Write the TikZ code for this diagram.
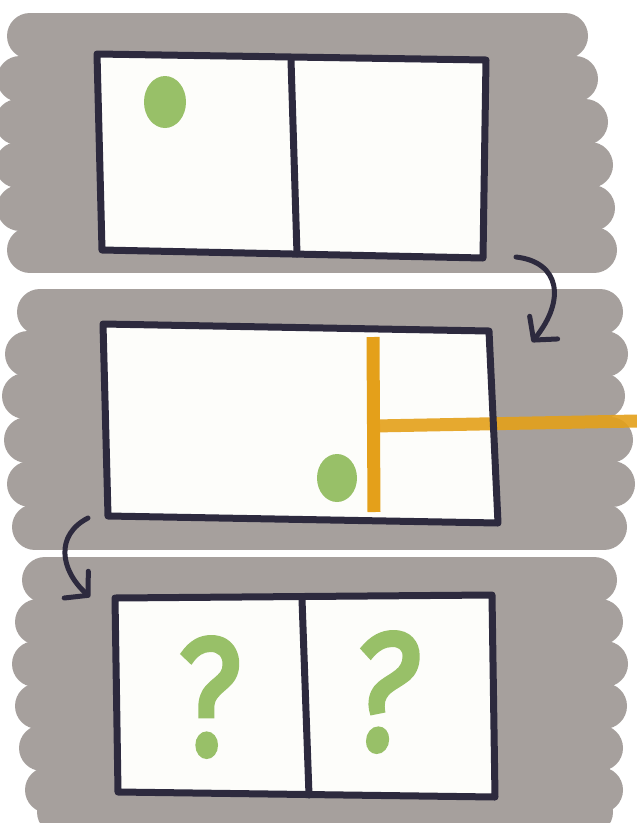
\documentclass[tikz,border=0pt]{standalone}
\usepackage{fontspec}
\usetikzlibrary{arrows.meta}
\definecolor{paper}{RGB}{253,253,250}
\definecolor{marker}{RGB}{166,160,157}
\definecolor{ink}{RGB}{45,42,62}
\definecolor{leaf}{RGB}{152,192,104}
\definecolor{amber}{RGB}{228,160,26}
\newfontfamily\qfont[FakeBold=2.5]{Fira Sans}
\tikzset{
  scribble/.style={marker, line width=46pt, line cap=round},
  panelfill/.style={fill=paper},
  panelline/.style={draw=ink, line width=7pt, line join=round, line cap=round},
  amberline/.style={draw=amber, line width=13pt, line cap=butt},
  dotmark/.style={fill=leaf},
  qmark/.style={text=leaf, font=\qfont\fontsize{168}{168}\selectfont, inner sep=0pt},
  flow/.style={draw=ink, line width=5pt, line cap=round,
    -{Straight Barb[length=16pt,width=36pt,line width=5pt,round]}}
}
\begin{document}
\begin{tikzpicture}[x=1pt,y=-1pt]
\useasboundingbox (0,0) rectangle (637,823);
\fill[white] (0,0) rectangle (637,823);
% grey marker background
\foreach \yy/\xa/\xb in {
  36/30/565, 79/20/575, 122/18/585, 165/18/590, 208/20/592, 250/30/594,
  312/40/600, 354/28/605, 396/25/602, 440/27/610, 484/30/612, 527/35/604,
  580/45/594, 622/38/600, 664/35/605, 706/38/604, 748/42/600, 790/48/600, 812/60/590}{
  \draw[scribble] (\xa,\yy) -- (\xb,\yy);
}
% panel 1
\coordinate (a1) at (97,54);
\coordinate (a2) at (486,60);
\coordinate (a3) at (483,258);
\coordinate (a4) at (102,250);
\coordinate (a5) at (291,60);
\coordinate (a6) at (297,254);
\path[panelfill] (a1) -- (a2) -- (a3) -- (a4) -- cycle;
\fill[dotmark] (165,102) ellipse [x radius=21, y radius=26];
\draw[panelline] (a1) -- (a2) -- (a3) -- (a4) -- cycle;
\draw[panelline] (a5) -- (a6);
% panel 2
\coordinate (b1) at (103,324);
\coordinate (b2) at (489,331);
\coordinate (b3) at (498,523);
\coordinate (b4) at (108,516);
\coordinate (o1) at (373,337);
\coordinate (o2) at (374,512);
\coordinate (o3) at (374,426);
\coordinate (o4) at (637,421);
\path[panelfill] (b1) -- (b2) -- (b3) -- (b4) -- cycle;
\fill[dotmark] (337,478) ellipse [x radius=20, y radius=24];
\draw[amberline] (o1) -- (o2);
\draw[amberline, opacity=0.9] (o3) -- (o4);
\draw[panelline] (b1) -- (b2) -- (b3) -- (b4) -- cycle;
% panel 3
\coordinate (c1) at (115,598);
\coordinate (c2) at (492,595);
\coordinate (c3) at (495,797);
\coordinate (c4) at (118,792);
\coordinate (c5) at (302,599);
\coordinate (c6) at (309,795);
\path[panelfill] (c1) -- (c2) -- (c3) -- (c4) -- cycle;
\draw[panelline] (c1) -- (c2) -- (c3) -- (c4) -- cycle;
\draw[panelline] (c5) -- (c6);
\node[qmark] (q1) at (210,697) {\scalebox{0.82}[1]{?}};
\node[qmark, font=\qfont\itshape\fontsize{168}{168}\selectfont] (q2) at (384,692) {\scalebox{0.85}[1]{?}};
% arrows
\coordinate (s1) at (516,257);
\coordinate (e1) at (532,342);
\draw[flow] (s1) .. controls (560,262) and (566,300) .. (e1);
\coordinate (s2) at (88,518);
\coordinate (e2) at (90,597);
\draw[flow] (s2) .. controls (55,535) and (60,570) .. (e2);
\end{tikzpicture}
\end{document}
